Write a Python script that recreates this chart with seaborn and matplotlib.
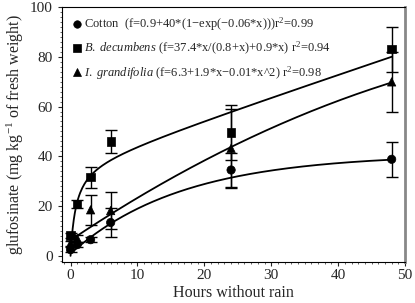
import numpy as np
import pandas as pd
import seaborn as sns
import matplotlib.pyplot as plt
from matplotlib.ticker import MultipleLocator

hours = [0, 1, 3, 6, 24, 48]
cotton = [2.5, 4.5, 6.5, 13.4, 34.5, 38.8]
cotton_err = [1.0, 1.0, 1.0, 5.9, 7.0, 7.0]
decumbens = [8.2, 20.8, 31.6, 46.0, 49.5, 83.0]
decumbens_err = [1.0, 1.5, 4.3, 4.7, 11.0, 9.0]
grandifolia = [5.0, 7.0, 18.5, 18.2, 43.2, 69.9]
grandifolia_err = [1.0, 1.5, 5.9, 7.4, 16.0, 12.0]

# fitted model parameters (as drawn)
cotton_fit = [0.9, 40.0, 0.06]
decumbens_fit = [37.4, 0.8, 0.9]
grandifolia_fit = [6.3, 1.8, -0.01]

labels = [
    "Cotton  (f=0.9+40*(1\u2212exp(\u22120.06*x)))r$^2$=0.99",
    "$\\mathit{B.\\ decumbens}$ (f=37.4*x/(0.8+x)+0.9*x) r$^2$=0.94",
    "$\\mathit{I.\\ grandifolia}$ (f=6.3+1.9*x\u22120.01*x^2) r$^2$=0.98",
]
markers = ["o", "s", "^"]

sns.set_style("ticks")
plt.rcParams["font.family"] = ["Liberation Serif", "DejaVu Serif"]
plt.rcParams["mathtext.fontset"] = "custom"
plt.rcParams["mathtext.rm"] = "Liberation Serif"
plt.rcParams["mathtext.it"] = "Liberation Serif:italic"

df = pd.DataFrame({
    "hours": hours * 3,
    "value": cotton + decumbens + grandifolia,
    "err": cotton_err + decumbens_err + grandifolia_err,
    "series": [labels[0]] * 6 + [labels[1]] * 6 + [labels[2]] * 6,
})

xs = np.linspace(0, 48, 300)
curves = pd.DataFrame({
    "x": np.concatenate([xs, xs, xs]),
    "y": np.concatenate([
        cotton_fit[0] + cotton_fit[1] * (1 - np.exp(-cotton_fit[2] * xs)),
        decumbens_fit[0] * xs / (decumbens_fit[1] + xs) + decumbens_fit[2] * xs,
        grandifolia_fit[0] + grandifolia_fit[1] * xs + grandifolia_fit[2] * xs ** 2,
    ]),
    "series": np.repeat(labels, len(xs)),
})

fig = plt.figure(figsize=(4.15, 3.03), dpi=100)
ax = fig.add_axes([0.149, 0.135, 0.827, 0.842])

sns.lineplot(data=curves, x="x", y="y", units="series", estimator=None,
             color="black", lw=1.3, ax=ax, legend=False)

for lab in labels:
    sub = df[df["series"] == lab]
    ax.errorbar(sub["hours"], sub["value"], yerr=sub["err"], fmt="none",
                ecolor="black", elinewidth=1.0, capsize=4, capthick=1.0)

sns.scatterplot(data=df, x="hours", y="value", style="series", markers=markers,
                style_order=labels, color="black", s=36, edgecolor="black",
                linewidth=0.5, ax=ax)

ax.set_xlim(-1.3, 50)
ax.set_ylim(-2.5, 100)
ax.set_xticks([0, 10, 20, 30, 40, 50])
ax.set_yticks([0, 20, 40, 60, 80, 100])
ax.yaxis.set_minor_locator(MultipleLocator(2))
ax.xaxis.set_minor_locator(MultipleLocator(1))
ax.tick_params(which="major", direction="out", length=3, width=0.8, labelsize=11)
ax.tick_params(which="minor", direction="out", length=1.5, width=0.5)
ax.tick_params(axis="x", which="major", pad=2)
ax.set_xlabel("Hours without rain", fontsize=11.5, labelpad=2)
ax.set_ylabel("glufosinate (mg kg$^{-1}$ of fresh weight)", fontsize=11.5, labelpad=3)

for side in ["left", "top", "bottom"]:
    ax.spines[side].set_color("black")
    ax.spines[side].set_linewidth(0.8)
ax.spines["right"].set_color("#888888")
ax.spines["right"].set_linewidth(2)

leg = ax.legend(loc="upper left", frameon=False, fontsize=9, handletextpad=0.1,
                borderaxespad=0.3, labelspacing=0.55, handlelength=1.0,
                markerscale=0.9)

plt.savefig("out.png", dpi=100)
